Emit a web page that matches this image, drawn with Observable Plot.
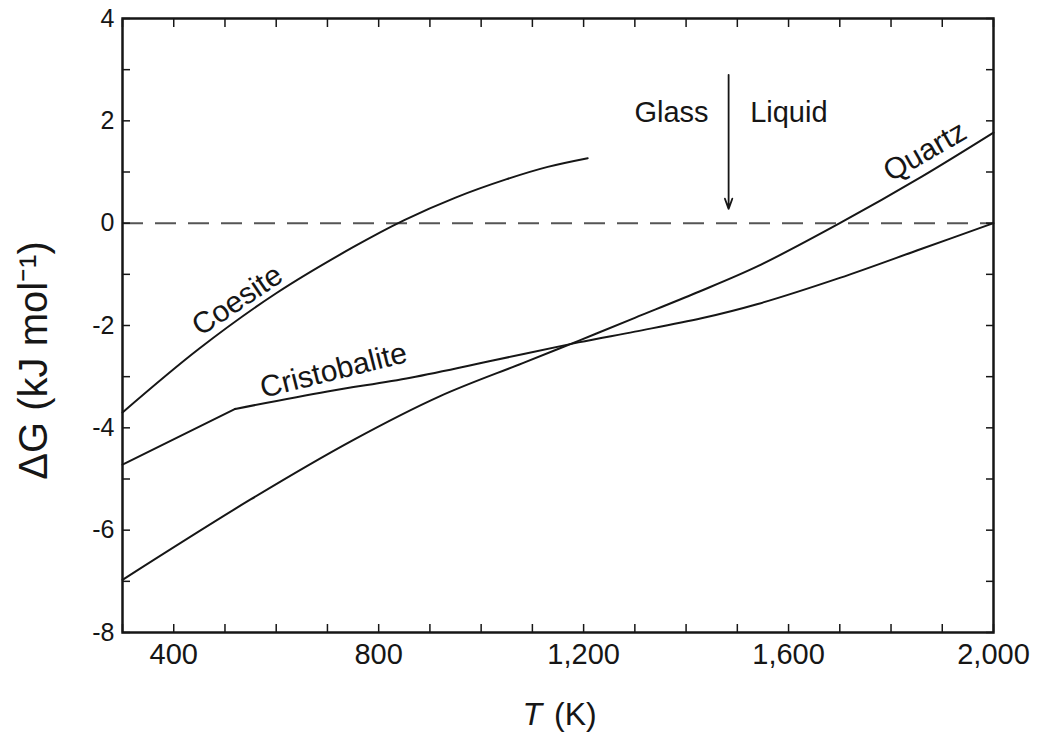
<!DOCTYPE html>
<html>
<head>
<meta charset="utf-8">
<script src="https://cdn.jsdelivr.net/npm/d3@7"></script>
<script src="https://cdn.jsdelivr.net/npm/@observablehq/plot@0.6"></script>
<style>
  html, body { margin: 0; padding: 0; background: #fff; }
  #chart { width: 1049px; height: 738px; }
  g[aria-label="curve-label"] text, g[aria-label="region-label"] text { letter-spacing: 2px; }
  g[aria-label="y-title"] text { letter-spacing: 4.5px; }
  g[aria-label="x-title"] text { letter-spacing: 1px; }
</style>
</head>
<body>
<div id="chart"></div>
<script>
// ---- data ----
const coesiteT = [300, 450, 600, 750, 850, 950, 1050, 1130, 1208];
const coesiteG = [-3.70, -2.45, -1.37, -0.47, 0.06, 0.50, 0.86, 1.10, 1.27];

const cristobaliteT = [300, 520, 700, 862, 1025, 1190, 1300, 1430, 1540, 1700, 1860, 2000];
const cristobaliteG = [-4.72, -3.63, -3.29, -3.02, -2.68, -2.33, -2.12, -1.86, -1.58, -1.07, -0.50, 0.00];
const cristobaliteKinkT = 520;

const quartzT = [300, 550, 750, 920, 1080, 1190, 1300, 1420, 1540, 1700, 1860, 2000];
const quartzG = [-6.97, -5.40, -4.24, -3.38, -2.74, -2.30, -1.85, -1.36, -0.84, 0.00, 0.91, 1.77];

const xTickLabels = [400, 800, 1200, 1600, 2000];
const xMinorTicks = d3.range(300, 2001, 100);
const yTickLabels = [-8, -6, -4, -2, 0, 2, 4];
const yMinorTicks = d3.range(-8, 5, 1);

const glassTransition = {T: 1483, from: 2.9, to: 0.28};
const curveLabels = [
  {text: "Coesite", T: 524, G: -1.51, angle: -34},
  {text: "Cristobalite", T: 712, G: -2.88, angle: -14},
  {text: "Quartz", T: 1866, G: 1.40, angle: -30}
];
const glassLabel = [{text: "Glass", T: 1444, G: 2.15}];
const liquidLabel = [{text: "Liquid", T: 1525, G: 2.15}];

const yLabel = "ΔG (kJ mol⁻¹)";
const xLabelSymbol = "T";
const xLabelUnit = "(K)";

// ---- build tables ----
const toRows = (T, G) => T.map((t, i) => ({T: t, G: G[i]}));
const coesite = toRows(coesiteT, coesiteG);
const cristobalite = toRows(cristobaliteT, cristobaliteG);
const cristobaliteLow = cristobalite.filter(d => d.T <= cristobaliteKinkT);
const cristobaliteHigh = cristobalite.filter(d => d.T >= cristobaliteKinkT);
const quartz = toRows(quartzT, quartzG);

const ink = "#161616";
const fmt = d3.format(",");

const plot = Plot.plot({
  width: 1049,
  height: 738,
  marginLeft: 122,
  marginRight: 56,
  marginTop: 18,
  marginBottom: 106,
  x: {domain: [300, 2000]},
  y: {domain: [-8, 4]},
  style: {fontFamily: "'Liberation Sans', Arial, Helvetica, sans-serif", color: ink, background: "#fff", overflow: "visible"},
  marks: [
    Plot.ruleY([0], {stroke: "#555", strokeWidth: 2, strokeDasharray: "21,12"}),
    Plot.line(coesite, {x: "T", y: "G", curve: "catmull-rom", stroke: ink, strokeWidth: 2}),
    Plot.line(cristobaliteLow, {x: "T", y: "G", curve: "linear", stroke: ink, strokeWidth: 2}),
    Plot.line(cristobaliteHigh, {x: "T", y: "G", curve: "catmull-rom", stroke: ink, strokeWidth: 2}),
    Plot.line(quartz, {x: "T", y: "G", curve: "catmull-rom", stroke: ink, strokeWidth: 2}),
    Plot.arrow([glassTransition], {x1: "T", x2: "T", y1: "from", y2: "to", stroke: ink, strokeWidth: 1.8, headLength: 9, headAngle: 40}),
    Plot.text(curveLabels, {x: "T", y: "G", text: "text", rotate: "angle", fontSize: 30, fill: ink, ariaLabel: "curve-label"}),
    Plot.text(glassLabel, {x: "T", y: "G", text: "text", textAnchor: "end", fontSize: 29, fill: ink, ariaLabel: "region-label"}),
    Plot.text(liquidLabel, {x: "T", y: "G", text: "text", textAnchor: "start", fontSize: 29, fill: ink, ariaLabel: "region-label"}),
    Plot.frame({stroke: ink, strokeWidth: 2.5}),
    // inward ticks on all four sides
    Plot.axisX(xMinorTicks, {anchor: "bottom", tickSize: -8, tickFormat: () => "", label: null, strokeWidth: 1.5}),
    Plot.axisX(xMinorTicks, {anchor: "top", tickSize: -8, tickFormat: () => "", label: null, strokeWidth: 1.5}),
    Plot.axisY(yMinorTicks, {anchor: "left", tickSize: -8, tickFormat: () => "", label: null, strokeWidth: 1.5}),
    Plot.axisY(yMinorTicks, {anchor: "right", tickSize: -8, tickFormat: () => "", label: null, strokeWidth: 1.5}),
    // tick labels
    Plot.axisX(xTickLabels, {anchor: "bottom", tickSize: 0, tickPadding: 11, tickFormat: fmt, fontSize: 29, label: null}),
    Plot.axisY(yTickLabels, {anchor: "left", tickSize: 0, tickPadding: 8, tickFormat: d => String(d), fontSize: 25, label: null}),
    // axis titles
    Plot.text([yLabel], {frameAnchor: "left", textAnchor: "middle", dx: -88, dy: 35, rotate: -90, fontSize: 40, fill: ink, ariaLabel: "y-title"}),
    Plot.text([xLabelSymbol], {frameAnchor: "bottom", textAnchor: "end", dx: -16, dy: 92, fontStyle: "italic", fontSize: 32, fill: ink, ariaLabel: "x-title"}),
    Plot.text([xLabelUnit], {frameAnchor: "bottom", textAnchor: "start", dx: -4, dy: 92, fontSize: 32, fill: ink, ariaLabel: "x-title"})
  ]
});
document.getElementById("chart").appendChild(plot);
</script>
</body>
</html>
